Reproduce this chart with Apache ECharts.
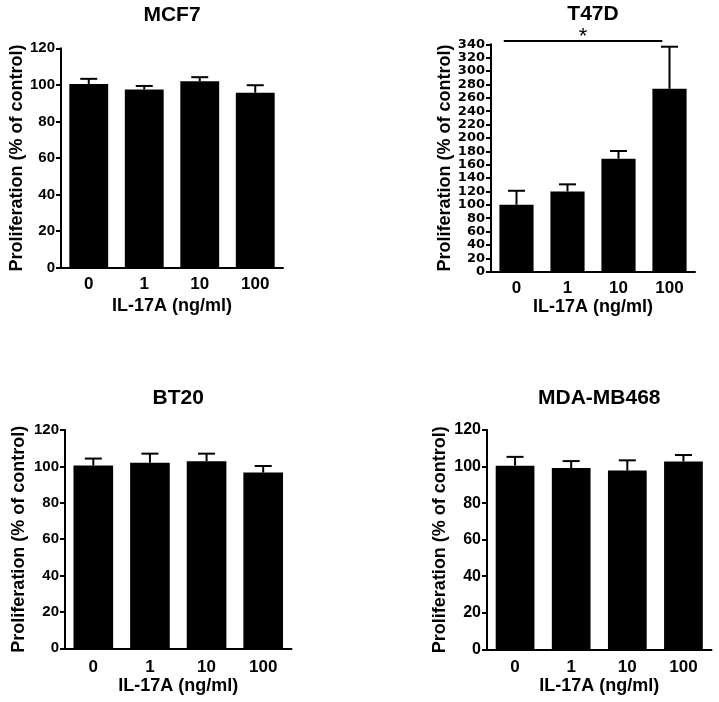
<!DOCTYPE html>
<html><head><meta charset="utf-8">
<script src="https://cdn.jsdelivr.net/npm/echarts@6/dist/echarts.min.js"></script>
<style>html,body{margin:0;padding:0;background:#fff}#c{width:719px;height:702px}</style>
</head><body><div id="c"></div>
<script>
// ---------- data ----------
const categories = ['0', '1', '10', '100'];
const mcf7Mean  = [100.5, 97.5, 102, 95.7];
const mcf7Upper = [103.3, 99.4, 104.2, 99.8];
const t47dMean  = [100, 120, 169, 273.5];
const t47dUpper = [121, 130.6, 180.5, 336.4];
const bt20Mean  = [100.5, 102, 102.8, 96.6];
const bt20Upper = [104.3, 107, 107, 100.2];
const mdaMean   = [100.5, 99.2, 97.8, 102.8];
const mdaUpper  = [105.3, 103, 103.4, 106.3];
const panelTitles = ['MCF7', 'T47D', 'BT20', 'MDA-MB468'];
const yMax = [120, 340, 120, 120];
const yInterval = 20;
const sigLevel = 345;
const sigLabel = '*';
const xAxisName = 'IL-17A (ng/ml)';
const yAxisName = 'Proliferation (% of control)';

// ---------- layout / style ----------
const means = [mcf7Mean, t47dMean, bt20Mean, mdaMean];
const uppers = [mcf7Upper, t47dUpper, bt20Upper, mdaUpper];
const grids = [
  {left: 61, top: 48.3, width: 222, height: 219.4},
  {left: 491, top: 44.3, width: 204, height: 227.4},
  {left: 65, top: 430, width: 226.5, height: 218.3},
  {left: 487, top: 430, width: 224.5, height: 219.3}
];
const titleY = [15, 14, 398, 398];
const yNameGap = [33, 36, 37, 38];
const xNameGap = [29, 26, 28, 28];
const xLabelMargin = [8, 8, 11, 10];
const barWidths = ['70%', '67%', '70%', '69%'];
const yLabelFonts = [
  {fontFamily: 'Liberation Sans', fontSize: 15},
  {fontFamily: 'DejaVu Sans', fontSize: 13},
  {fontFamily: 'Liberation Sans', fontSize: 15},
  {fontFamily: 'Liberation Sans', fontSize: 16}
];
const BLACK = '#000';

function errItem(params, api) {
  const i = api.value(0), m = api.value(1), u = api.value(2);
  const p0 = api.coord([i, m]);
  const p1 = api.coord([i, u]);
  const half = 8.5;
  return {
    type: 'group',
    children: [
      {type: 'line', shape: {x1: p0[0], y1: p0[1], x2: p1[0], y2: p1[1]}, style: {stroke: BLACK, lineWidth: 2}},
      {type: 'line', shape: {x1: p1[0] - half, y1: p1[1], x2: p1[0] + half, y2: p1[1]}, style: {stroke: BLACK, lineWidth: 2}}
    ]
  };
}

function sigItem(params, api) {
  const a = api.value(0), b = api.value(1), lvl = api.value(2);
  const pa = api.coord([a, lvl]);
  const pb = api.coord([b, lvl]);
  const bw = api.size([1, 0])[0];
  const x1 = pa[0] - 0.25 * bw, x2 = pb[0] - 0.14 * bw;
  return {
    type: 'group',
    children: [
      {type: 'line', shape: {x1: x1, y1: pa[1], x2: x2, y2: pb[1]}, style: {stroke: BLACK, lineWidth: 2}},
      {type: 'text', x: (x1 + x2) / 2, y: pa[1] + 7, style: {text: sigLabel, font: 'normal 22px "Liberation Sans"', fill: BLACK, align: 'center', verticalAlign: 'bottom'}}
    ]
  };
}

const option = {
  backgroundColor: '#fff',
  animation: false,
  grid: [], xAxis: [], yAxis: [], series: [], graphic: []
};

grids.forEach((g, k) => {
  option.grid.push(Object.assign({containLabel: false, outerBoundsMode: 'none'}, g));
  option.xAxis.push({
    type: 'category', gridIndex: k, data: categories,
    axisLine: {lineStyle: {color: BLACK, width: 2}},
    axisTick: {show: false},
    axisLabel: {color: BLACK, fontWeight: 'bold', fontFamily: 'Liberation Sans', fontSize: 17, margin: xLabelMargin[k]},
    name: xAxisName, nameLocation: 'middle', nameGap: xNameGap[k],
    nameTextStyle: {color: BLACK, fontWeight: 'bold', fontFamily: 'Liberation Sans', fontSize: 18}
  });
  option.yAxis.push({
    type: 'value', gridIndex: k, min: 0, max: yMax[k], interval: yInterval,
    axisLine: {show: true, lineStyle: {color: BLACK, width: 2}},
    axisTick: {show: true, inside: false, length: 5, lineStyle: {color: BLACK, width: 2}},
    splitLine: {show: false},
    axisLabel: Object.assign({color: BLACK, fontWeight: 'bold', margin: 6, hideOverlap: false, showMinLabel: true, showMaxLabel: true}, yLabelFonts[k]),
    name: yAxisName, nameLocation: 'middle', nameGap: yNameGap[k], nameRotate: 90,
    nameTextStyle: {color: BLACK, fontWeight: 'bold', fontFamily: 'Liberation Sans', fontSize: 18}
  });
  option.series.push({
    type: 'bar', xAxisIndex: k, yAxisIndex: k, data: means[k],
    barWidth: barWidths[k], itemStyle: {color: BLACK}, silent: true
  });
  option.series.push({
    type: 'custom', xAxisIndex: k, yAxisIndex: k, renderItem: errItem, clip: false,
    encode: {x: 0, y: [1, 2]}, silent: true,
    data: categories.map((c, i) => [i, means[k][i], uppers[k][i]])
  });
  option.graphic.push({
    type: 'text', x: g.left + g.width / 2, y: titleY[k],
    style: {text: panelTitles[k], font: 'bold 21px "Liberation Sans"', fill: BLACK, align: 'center', verticalAlign: 'middle'}
  });
});

option.series.push({
  type: 'custom', xAxisIndex: 1, yAxisIndex: 1, renderItem: sigItem, clip: false,
  encode: {x: 0, y: 2}, silent: true,
  data: [[0, 3, sigLevel]]
});

const chart = echarts.init(document.getElementById('c'), null, {renderer: 'canvas'});
chart.setOption(option);
</script>
</body></html>
